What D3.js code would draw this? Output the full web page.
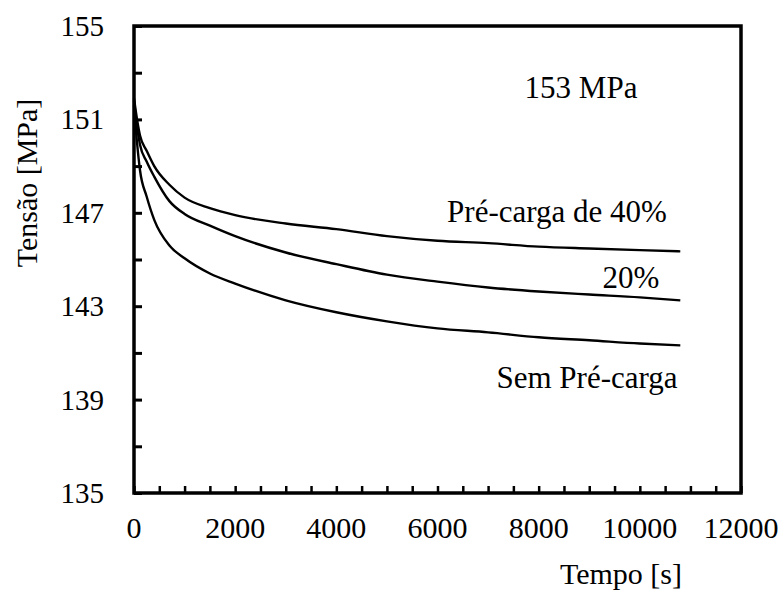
<!DOCTYPE html>
<html>
<head>
<meta charset="utf-8">
<script src="https://cdn.jsdelivr.net/npm/d3@7"></script>
</head>
<body style="margin:0">
<svg width="783" height="592" style="font-family: 'Liberation Serif'"></svg>
<script>
// time points [s]
var tempo = [0, 60, 120, 250, 400, 700, 1000, 1500, 2000, 3000, 4000, 5000, 6000, 7000, 8000, 9000, 10000, 10800];

// stress [MPa] for each pre-load level
var preCarga40 = [151.9, 151.0, 150.3, 149.66, 149.0, 148.2, 147.65, 147.2, 146.9, 146.54, 146.3, 146.0, 145.8, 145.7, 145.55, 145.47, 145.4, 145.35];
var preCarga20 = [151.8, 150.7, 149.9, 149.2, 148.55, 147.5, 146.95, 146.45, 146.0, 145.3, 144.8, 144.35, 144.05, 143.8, 143.63, 143.5, 143.38, 143.25];
var semPreCarga = [151.6, 150.0, 148.8, 147.7, 146.7, 145.6, 145.05, 144.4, 143.97, 143.25, 142.74, 142.35, 142.05, 141.88, 141.67, 141.54, 141.4, 141.32];

var xTicks = [0, 2000, 4000, 6000, 8000, 10000, 12000];
var yTicks = [135, 139, 143, 147, 151, 155];

main();

function main() {
    var svg = d3.select("svg");

    var left = 134, right = 741, top = 26, bottom = 493;
    var font = "'Liberation Serif'";

    var x = d3.scaleLinear().domain([0, 12000]).range([left, right]);
    var y = d3.scaleLinear().domain([135, 155]).range([bottom, top]);

    var series = [preCarga40, preCarga20, semPreCarga];

    var line = d3.line()
        .x(function (d, i) { return x(tempo[i]); })
        .y(function (d) { return y(d); })
        .curve(d3.curveMonotoneX);

    svg.selectAll("path.serie")
        .data(series)
        .enter()
        .append("path")
        .attr("class", "serie")
        .attr("d", line)
        .attr("fill", "none")
        .attr("stroke", "#000")
        .attr("stroke-width", 2.4);

    // inward ticks (major + minor)
    var xAxis = d3.axisBottom(x)
        .tickValues(d3.range(0, 12001, 500))
        .tickSize(-7)
        .tickFormat("");
    svg.append("g")
        .attr("transform", "translate(0," + bottom + ")")
        .call(xAxis)
        .call(function (g) {
            g.select(".domain").remove();
            g.selectAll(".tick line").attr("stroke-width", 2.5);
        });

    var yAxis = d3.axisLeft(y)
        .tickValues(d3.range(135, 155.1, 2))
        .tickSize(-8)
        .tickFormat("");
    svg.append("g")
        .attr("transform", "translate(" + left + ",0)")
        .call(yAxis)
        .call(function (g) {
            g.select(".domain").remove();
            g.selectAll(".tick line").attr("stroke-width", 3);
        });

    // frame
    svg.append("rect")
        .attr("x", left)
        .attr("y", top)
        .attr("width", right - left)
        .attr("height", bottom - top)
        .attr("fill", "none")
        .attr("stroke", "#000")
        .attr("stroke-width", 3.5);

    // tick labels
    svg.selectAll("text.xlab")
        .data(xTicks)
        .enter()
        .append("text")
        .attr("class", "xlab")
        .attr("x", function (d) { return x(d); })
        .attr("y", 538)
        .attr("text-anchor", "middle")
        .attr("font-size", 30)
        .style("font-family", font)
        .text(function (d) { return d; });

    svg.selectAll("text.ylab")
        .data(yTicks)
        .enter()
        .append("text")
        .attr("class", "ylab")
        .attr("x", 104)
        .attr("y", function (d) { return y(d) + 10; })
        .attr("text-anchor", "end")
        .attr("font-size", 29)
        .style("font-family", font)
        .text(function (d) { return d; });

    // axis titles
    svg.append("text")
        .attr("x", 621)
        .attr("y", 584)
        .attr("text-anchor", "middle")
        .attr("font-size", 30)
        .style("font-family", font)
        .text("Tempo [s]");

    svg.append("text")
        .attr("transform", "translate(37,183) rotate(-90)")
        .attr("text-anchor", "middle")
        .attr("font-size", 30)
        .style("font-family", font)
        .text("Tensão [MPa]");

    // annotations
    var notes = [
        { t: "153 MPa", x: 581, y: 98 },
        { t: "Pré-carga de 40%", x: 557, y: 222 },
        { t: "20%", x: 631, y: 288 },
        { t: "Sem Pré-carga", x: 587, y: 388 }
    ];
    svg.selectAll("text.note")
        .data(notes)
        .enter()
        .append("text")
        .attr("class", "note")
        .attr("x", function (d) { return d.x; })
        .attr("y", function (d) { return d.y; })
        .attr("text-anchor", "middle")
        .attr("font-size", 31)
        .style("font-family", font)
        .text(function (d) { return d.t; });
}
</script>
</body>
</html>
